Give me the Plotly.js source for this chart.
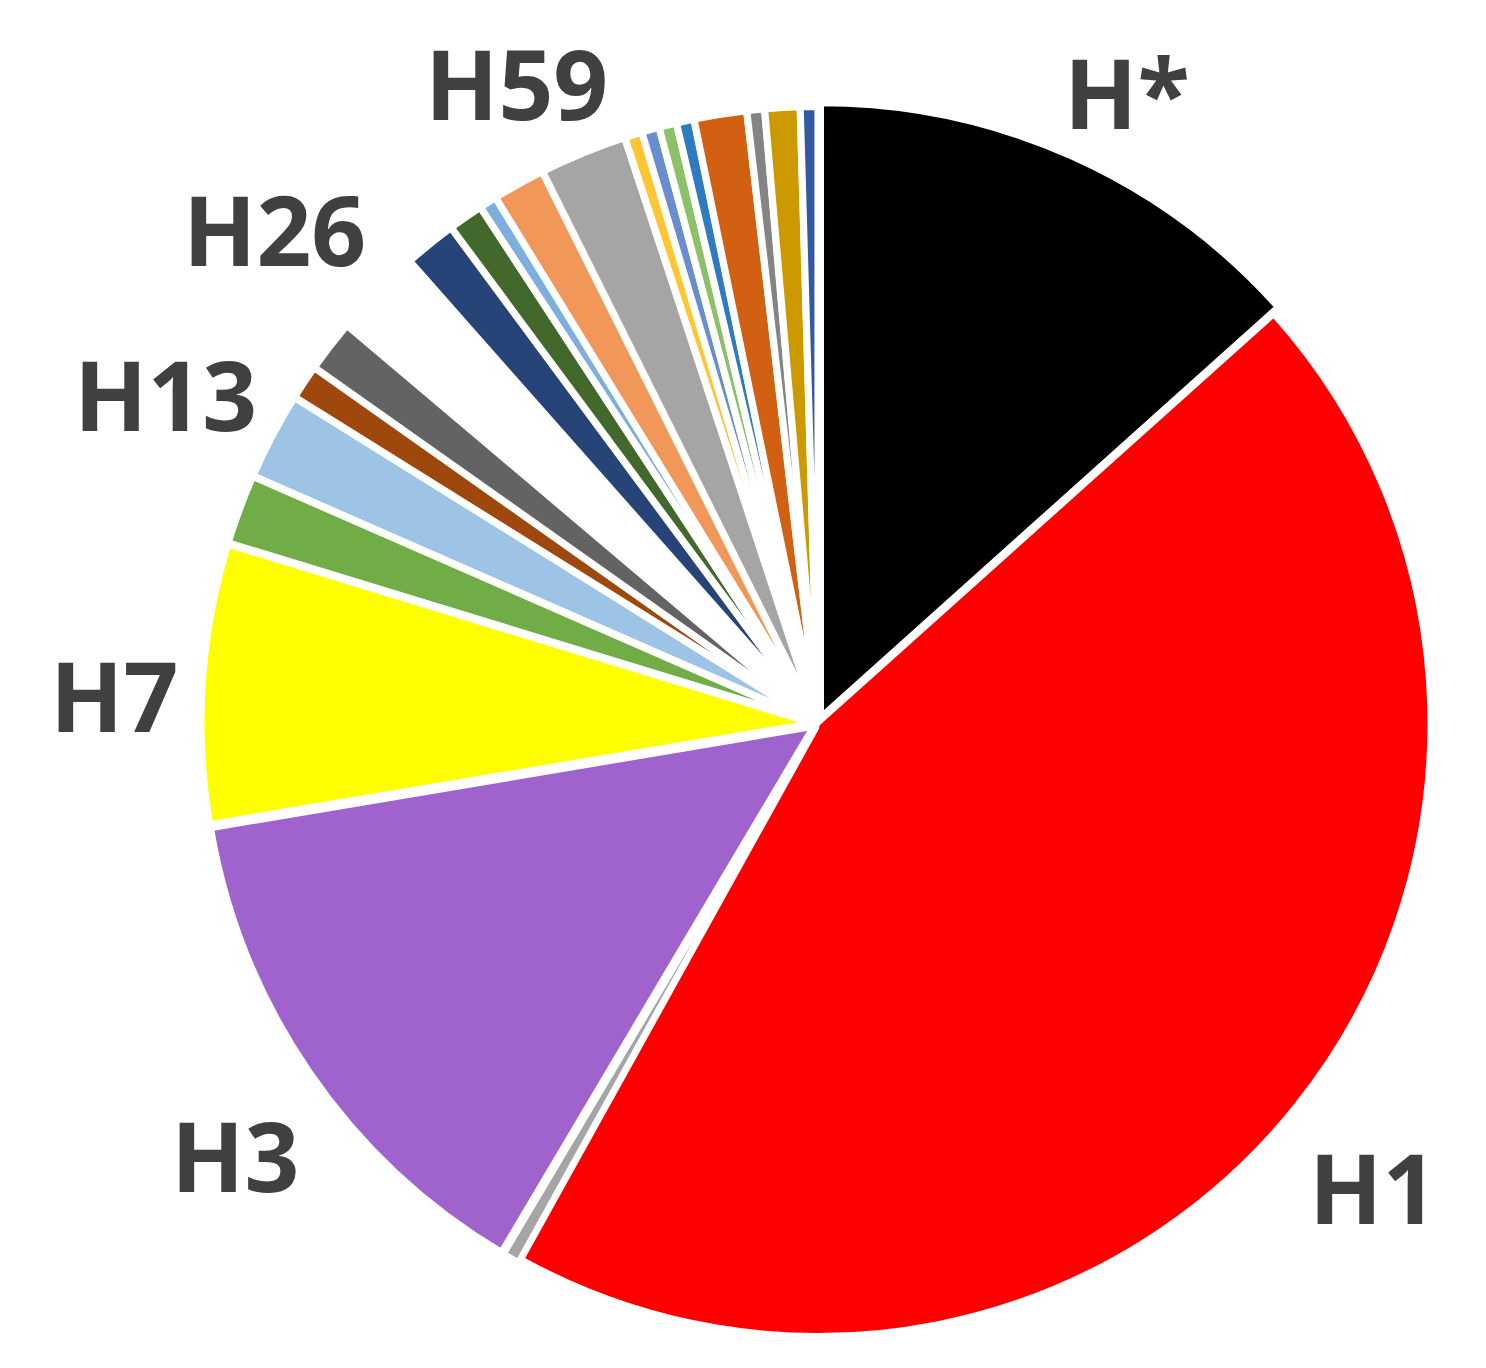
<!DOCTYPE html>
<html>
<head>
<meta charset="utf-8">
<script src="https://cdn.plot.ly/plotly-3.0.1.min.js"></script>
<style>
  html, body { margin: 0; padding: 0; background: #fff; }
  #chart { width: 1486px; height: 1368px; }
</style>
</head>
<body>
<div id="chart"></div>
<script>
const sliceIds = [
  'H*', 'H1', 's03', 'H3', 'H7', 's06', 's07', 's08', 'H13', 's10', 'H26', 's12',
  's13', 's14', 'H59', 's16', 's17', 's18', 's19', 's20', 's21', 's22', 's23',
];
const sliceValues = [29, 97, 1, 30, 16, 4, 5, 2, 3, 5, 3, 2, 1, 3, 5, 1, 1, 1, 1, 3, 1, 2, 1];
const sliceColors = [
  '#000000', '#FF0000', '#A5A5A5', '#A062CC', '#FFFF00', '#70AD47', '#9DC3E6', '#9E480E',
  '#636363', '#FFFFFF', '#264478', '#43682B', '#7CAFDD', '#F1975A', '#A5A5A5', '#FFC533',
  '#698ED0', '#8CC168', '#2E7BC4', '#D26012', '#848484', '#CC9A00', '#335AA1',
];
const shownLabels = ['H*', 'H1', 'H3', 'H7', 'H13', 'H26', 'H59'];

const W = 1486, H = 1368;
// label centres in pixels, same order as shownLabels
const labelPos = [[1127, 91], [1373, 1186], [235, 1154], [114, 694], [165, 394], [274, 229], [516, 83]];

const big = new Set(['H*', 'H1']);
const lineWidths = sliceIds.map((id) => (big.has(id) ? 5 : 7));
const pulls = sliceIds.map((id) => (id === 'H1' ? 0 : id === 'H*' ? 0.014 : 0.008));

const maxPull = 0.014;
const cx = 818, cy = 723.5, R = 612;
const half = R * (1 + maxPull);

const trace = {
  type: 'pie',
  labels: sliceIds,
  values: sliceValues,
  sort: false,
  direction: 'clockwise',
  rotation: 0,
  textinfo: 'none',
  hoverinfo: 'skip',
  pull: pulls,
  marker: { colors: sliceColors, line: { color: '#FFFFFF', width: lineWidths } },
  domain: {
    x: [(cx - half) / W, (cx + half) / W],
    y: [1 - (cy + half) / H, 1 - (cy - half) / H],
  },
  showlegend: false,
};

const annotations = shownLabels.map((t, i) => ({
  text: t,
  xref: 'paper', yref: 'paper',
  x: labelPos[i][0] / W, y: 1 - labelPos[i][1] / H,
  xanchor: 'center', yanchor: 'middle',
  showarrow: false,
  font: { family: 'Open Sans, sans-serif', size: 96, color: '#404040', weight: 700 },
}));

const layout = {
  width: W, height: H,
  margin: { l: 0, r: 0, t: 0, b: 0 },
  paper_bgcolor: '#FFFFFF',
  showlegend: false,
  annotations,
};

Plotly.newPlot('chart', [trace], layout, { displayModeBar: false, staticPlot: true });
</script>
</body>
</html>
